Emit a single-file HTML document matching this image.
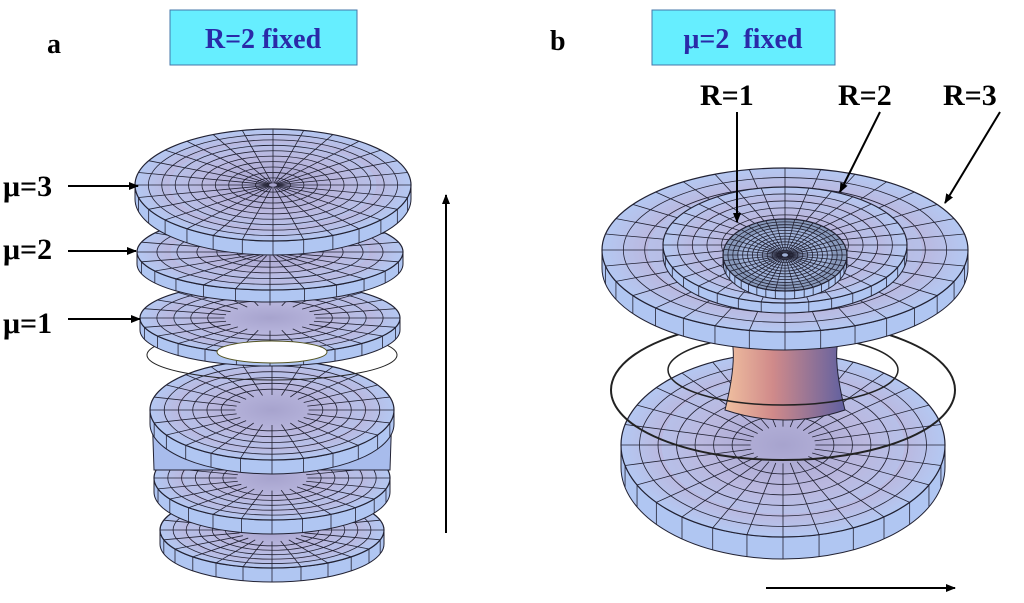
<!DOCTYPE html>
<html><head><meta charset="utf-8"><style>
html,body{margin:0;padding:0;background:#fff;width:1024px;height:603px;overflow:hidden}
svg{position:absolute;left:0;top:0}
</style></head><body>
<svg id="s" width="1024" height="603" viewBox="0 0 1024 603" xmlns="http://www.w3.org/2000/svg">
<defs>
<radialGradient id="bowl" cx="0.5" cy="0.5" r="0.5">
<stop offset="0" stop-color="#9a7faa"/><stop offset="0.5" stop-color="#c0a8cc"/><stop offset="1" stop-color="#b4c8f2"/></radialGradient>
<linearGradient id="neck" x1="0" x2="1"><stop offset="0" stop-color="#f0c0a0"/><stop offset="0.4" stop-color="#d08a8a"/><stop offset="1" stop-color="#6060a0"/></linearGradient>
<marker id="ah" markerWidth="10" markerHeight="8" refX="9" refY="4" orient="auto" markerUnits="userSpaceOnUse"><path d="M0,0 L10,4 L0,8 z" fill="#000"/></marker>
</defs>
<g id="g"></g>
<rect x="170" y="10" width="187" height="55" fill="#66eeff" stroke="#4477aa" stroke-width="1"/>
<text x="263" y="48" text-anchor="middle" font-family="Liberation Serif, serif" font-weight="bold" font-size="28" fill="#2a2aa8">R=2 fixed</text>
<rect x="652" y="10" width="183" height="55" fill="#66eeff" stroke="#4477aa" stroke-width="1"/>
<text x="743" y="48" text-anchor="middle" font-family="Liberation Serif, serif" font-weight="bold" font-size="28" fill="#2a2aa8" xml:space="preserve">μ=2  fixed</text>
<text x="47" y="53" font-family="Liberation Serif, serif" font-weight="bold" font-size="28">a</text>
<text x="550" y="50" font-family="Liberation Serif, serif" font-weight="bold" font-size="28">b</text>
<g font-family="Liberation Serif, serif" font-weight="bold" font-size="30">
<text x="3" y="196">μ=3</text><text x="3" y="259">μ=2</text><text x="3" y="333">μ=1</text>
<text x="700" y="105">R=1</text><text x="838" y="105">R=2</text><text x="943" y="105">R=3</text>
</g>
<g stroke="#000" stroke-width="2" marker-end="url(#ah)" fill="none">
<line x1="68" y1="186" x2="138" y2="186"/>
<line x1="68" y1="251" x2="136" y2="251"/>
<line x1="68" y1="319" x2="140" y2="319"/>
<line x1="446" y1="533" x2="446" y2="195"/>
<line x1="766" y1="588" x2="955" y2="588"/>
<line x1="737" y1="112" x2="737" y2="222"/>
<line x1="880" y1="112" x2="840" y2="192"/>
<line x1="1000" y1="112" x2="945" y2="203"/>
</g>
</svg>
<script>
var g=document.getElementById('g'),NS='http://www.w3.org/2000/svg';
function el(t,a){var e=document.createElementNS(NS,t);for(var k in a)e.setAttribute(k,a[k]);g.appendChild(e);return e;}
function disc(cx,cy,rx,ry,rim,inner,rings,rad,fill){
 el('path',{d:'M'+(cx-rx)+','+cy+' A'+rx+','+ry+' 0 0 0 '+(cx+rx)+','+cy+' L'+(cx+rx)+','+(cy+rim)+' A'+rx+','+ry+' 0 0 1 '+(cx-rx)+','+(cy+rim)+' Z',fill:'#b0c6f2',stroke:'#223',"stroke-width":1});
 for(var i=0;i<=rad;i++){var a=Math.PI*i/rad;var x=cx-rx*Math.cos(a),y=cy+ry*Math.sin(a);el('line',{x1:x,y1:y,x2:x,y2:y+rim,stroke:'#223',"stroke-width":0.8});}
 el('ellipse',{cx:cx,cy:cy,rx:rx,ry:ry,fill:fill||'url(#bowl)',stroke:'#223',"stroke-width":1.2});
 el('ellipse',{cx:cx,cy:cy,rx:rx*0.75,ry:ry*0.75,fill:'#b4c8f2',opacity:0.5});
 for(var r=1;r<rings;r++){var f=inner+(1-inner)*r/rings;el('ellipse',{cx:cx,cy:cy,rx:rx*f,ry:ry*f,fill:'none',stroke:'#223',"stroke-width":0.8});}
 for(var i=0;i<rad*2;i++){var a=Math.PI*i/rad;el('line',{x1:cx+rx*inner*Math.cos(a),y1:cy+ry*inner*Math.sin(a),x2:cx+rx*Math.cos(a),y2:cy+ry*Math.sin(a),stroke:'#223',"stroke-width":0.8});}
}
// left stack
disc(272,530,112,38,14,0.3,6,12);
disc(272,478,118,42,14,0.3,6,12);
el('path',{d:'M152,410 L392,410 L390,470 L154,470 Z',fill:'#a8bcec',stroke:'#223',"stroke-width":1});
disc(272,410,122,50,14,0.3,6,12);
el('ellipse',{cx:272,cy:355,rx:125,ry:25,fill:'none',stroke:'#222',"stroke-width":1});
el('rect',{x:215,y:330,width:115,height:30,fill:'url(#neck)'});
disc(270,318,130,36,12,0.35,5,12);
el('ellipse',{cx:272,cy:352,rx:55,ry:11,fill:'#fff',stroke:'#552',"stroke-width":1});
disc(270,252,133,38,12,0.1,6,12);
disc(273,185,138,56,14,0.03,10,14);
// right
disc(783,445,162,92,22,0.2,7,14);
el('path',{d:'M728,330 Q740,350 725,410 Q785,430 845,410 Q830,350 842,330 Z',fill:'url(#neck)',stroke:'#223',"stroke-width":1});
el('ellipse',{cx:783,cy:390,rx:172,ry:70,fill:'none',stroke:'#222',"stroke-width":2});
el('ellipse',{cx:783,cy:370,rx:115,ry:35,fill:'none',stroke:'#222',"stroke-width":1.5});
disc(785,250,183,82,18,0.3,6,16);
disc(785,245,122,58,10,0.4,5,16);
disc(785,255,62,36,8,0.05,12,20,'#8899bb');
</script>
</body></html>
